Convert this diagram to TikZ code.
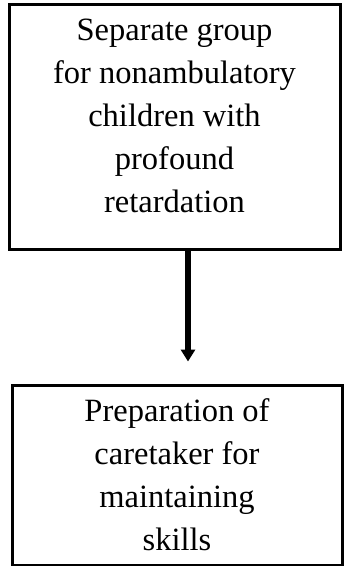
\documentclass[tikz,border=0pt]{standalone}
\usepackage{fontspec}
\setmainfont{Liberation Serif}
\usetikzlibrary{arrows.meta}
\begin{document}
\begin{tikzpicture}[x=1pt,y=1pt,
  box/.style={draw=black, line width=3pt, rectangle, align=center, inner sep=0pt,
    font=\fontsize{32.5}{43}\selectfont},
  link/.style={line width=5.5pt, -{Triangle[width=14pt,length=12pt]}}]
\useasboundingbox (0,0) rectangle (350,-566);
\node[box, minimum width=331, minimum height=245] (top) at (174.5,-126.5)
  {Separate group\\for nonambulatory\\children with\\profound\\retardation\rule[-21pt]{0pt}{0pt}};
\node[box, minimum width=330, minimum height=180] (bottom) at (177,-475)
  {Preparation of\\caretaker for\\maintaining\\skills};
\draw[link, shorten >=22pt] ([xshift=13.5pt]top.south) -- ([xshift=11pt]bottom.north);
\end{tikzpicture}
\end{document}
